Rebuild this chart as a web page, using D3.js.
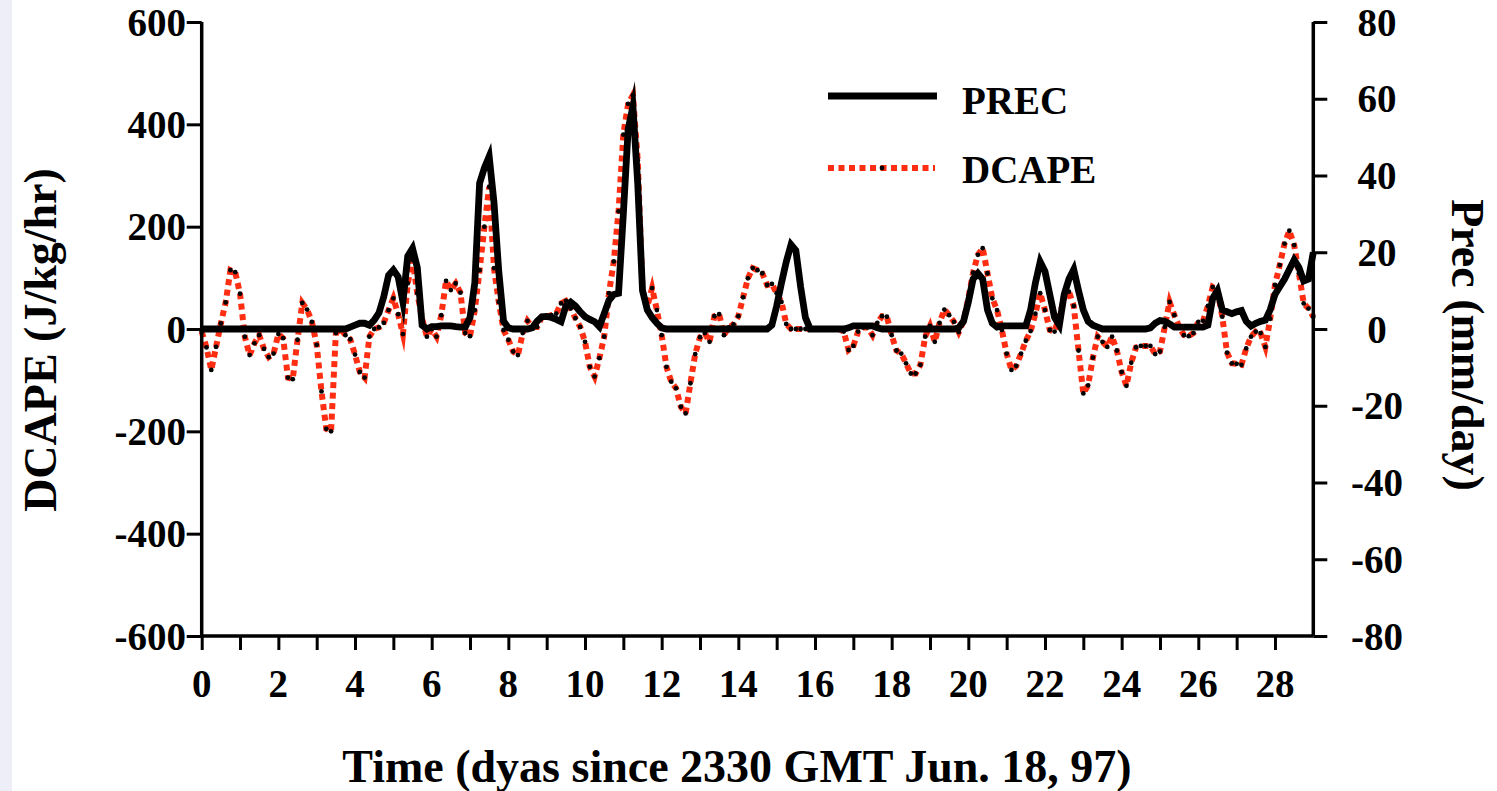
<!DOCTYPE html>
<html>
<head>
<meta charset="utf-8">
<script src="https://cdn.jsdelivr.net/npm/d3@7"></script>
<style>
  html, body { margin: 0; padding: 0; background: #ffffff; }
  svg { display: block; }
  text { font-family: "Liberation Serif", "Times New Roman", serif; font-weight: bold; fill: #000; }
</style>
</head>
<body>
<svg id="chart" width="1497" height="791"></svg>
<script>
// 3-hourly samples, starting at 2330 GMT Jun. 18, 1997
const stepDays = 0.125;

// DCAPE tendency (J/kg/hr), left axis
const dcape = [
  -5,-36,-80,-35,11,52,115,111,69,-15,
  -51,-28,-12,-39,-55,-48,-10,-18,-95,-98,
  -21,51,38,14,-31,-122,-195,-200,-8,0,
  -12,-20,-50,-84,-95,-15,0,3,12,37,
  60,29,-10,89,135,70,20,-15,0,-15,
  27,94,76,89,71,-8,-14,37,115,200,
  278,119,53,-2,-21,-44,-51,-8,16,4,
  4,24,24,27,30,50,55,40,21,4,
  -25,-74,-93,-57,-15,70,132,230,380,440,
  457,330,76,44,80,37,-12,-74,-103,-116,
  -152,-165,-106,-49,-16,-8,-25,25,29,-12,
  3,9,25,62,99,119,115,109,86,88,
  70,53,10,0,0,0,0,0,0,0,
  0,0,0,0,-5,-41,-33,-5,3,3,
  -12,12,25,24,-12,-42,-48,-67,-87,-87,
  -70,-15,6,-25,12,38,27,14,-6,15,
  60,110,145,158,109,60,37,-2,-48,-80,
  -72,-48,-23,-4,30,70,37,-2,-5,25,
  60,73,45,-42,-126,-110,-56,-15,-25,-35,
  -15,-42,-84,-111,-66,-36,-33,-33,-33,-49,
  -44,4,53,27,4,-12,-14,-8,14,16,
  45,82,76,24,-46,-67,-68,-70,-38,-15,
  -5,-8,-35,20,86,125,167,192,164,109,
  50,40,24
];

// Precipitation rate (mm/day), right axis
const prec = [
  0,0,0,0,0,0,0,0,0,0,
  0,0,0,0,0,0,0,0,0,0,
  0,0,0,0,0,0,0,0,0,0,
  0,0.5,1,1.5,1.5,1,2.3,4.2,8.4,14,
  15.4,13.6,7,19,21,16,1,0,0.6,0.6,
  0.8,0.8,0.8,0.6,0.5,0.5,3,12,38,42,
  45,33,15,2,0.3,0,0,0,0,0.3,
  2,3.2,3.3,3,2.5,1.9,6,7,6,4.5,
  3.2,2.5,1.9,0.6,4,7.5,9,9.3,30,52,
  58,38,10,5,3,1.5,0.3,0,0,0,
  0,0,0,0,0,0,0,0,0,0,
  0,0,0,0,0,0,0,0,0,1,
  6,12,17.5,22,20.5,11,3,0,0,0,
  0,0,0,0,0,0.3,0.8,0.8,0.8,0.8,
  0.8,0.3,0,0,0,0,0,0,0,0,
  0,0,0,0,0,0,0,0,0.3,2,
  7,13,14.5,13,5,1.5,0.5,0.8,0.8,0.8,
  0.8,0.8,0.8,5,12,17.5,15,9,3,1,
  9,13,15.5,10,5,2,1,0.5,0,0,
  0,0,0,0,0,0,0,0,0.3,1.5,
  2.2,2,1.3,0.5,0.5,0.5,0.5,0.5,0.5,0.5,
  1,8,10,5,4.5,4,4.5,4.8,2,0.8,
  1.5,2,2.3,5,9,11,13,15.5,18,16,
  12.5,13,20
];

const xTicks = [0,2,4,6,8,10,12,14,16,18,20,22,24,26,28];
const xMinorTicks = d3.range(0, 29, 1);
const leftTicks = [-600,-400,-200,0,200,400,600];
const rightTicks = [-80,-60,-40,-20,0,20,40,60,80];
const seriesNames = ["PREC", "DCAPE"];
const titles = {
  x: "Time (dyas since 2330 GMT Jun. 18, 97)",
  yLeft: "DCAPE (J/kg/hr)",
  yRight: "Prec (mm/day)"
};

const svg = d3.select("#chart");
const W = 1497, H = 791;
const plot = { left: 201.7, right: 1313.3, top: 22, bottom: 636 };

// soft lavender margin strip on the left edge
svg.append("rect").attr("x", 0).attr("y", 0).attr("width", 12).attr("height", H)
  .attr("fill", "#eeeef9");

const x = d3.scaleLinear().domain([0, 29]).range([plot.left, plot.right]);
const yL = d3.scaleLinear().domain([-600, 600]).range([plot.bottom, plot.top]);
const yR = d3.scaleLinear().domain([-80, 80]).range([plot.bottom, plot.top]);

const red = "#ff2e12";
const dash = "6,4.5";

// DCAPE: red square-dotted line with small black markers
const dcapeLine = d3.line().x((d, i) => x(i * stepDays)).y(d => yL(d));
svg.append("path").datum(dcape)
  .attr("d", dcapeLine)
  .attr("fill", "none")
  .attr("stroke", red)
  .attr("stroke-width", 6)
  .attr("stroke-dasharray", dash)
  .attr("stroke-linejoin", "miter")
  .attr("stroke-miterlimit", 10);
svg.append("g").selectAll("circle").data(dcape).join("circle")
  .attr("cx", (d, i) => x(i * stepDays))
  .attr("cy", d => yL(d))
  .attr("r", 2.4)
  .attr("fill", "#000");

// PREC: thick black solid line
const precLine = d3.line().x((d, i) => x(i * stepDays)).y(d => yR(d));
svg.append("path").datum(prec)
  .attr("d", precLine)
  .attr("fill", "none")
  .attr("stroke", "#000")
  .attr("stroke-width", 6.8)
  .attr("stroke-linejoin", "miter")
  .attr("stroke-miterlimit", 10);

// Axes
const axisW = 3.5;
const xAxis = svg.append("g").attr("transform", `translate(0,${plot.bottom})`)
  .call(d3.axisBottom(x).tickValues(xMinorTicks).tickSize(14).tickFormat(""));
const leftAxis = svg.append("g").attr("transform", `translate(${plot.left},0)`)
  .call(d3.axisLeft(yL).tickValues(leftTicks).tickSize(15).tickFormat(""));
const rightAxis = svg.append("g").attr("transform", `translate(${plot.right},0)`)
  .call(d3.axisRight(yR).tickValues(rightTicks).tickSize(14).tickFormat(""));
[xAxis, leftAxis, rightAxis].forEach(g => {
  g.select(".domain").attr("stroke", "#000").attr("stroke-width", axisW)
    .attr("d", g === xAxis ? `M${plot.left},0H${plot.right}`
      : `M0,${plot.top}V${plot.bottom}`);
  g.selectAll(".tick line").attr("stroke", "#000").attr("stroke-width", 3);
});

// Tick labels
const fs = 39;
svg.append("g").selectAll("text").data(xTicks).join("text")
  .attr("x", d => x(d)).attr("y", 697)
  .attr("text-anchor", "middle").attr("font-size", fs)
  .text(d => d);
svg.append("g").selectAll("text").data(leftTicks).join("text")
  .attr("x", 186).attr("y", d => yL(d) + 13.5)
  .attr("text-anchor", "end").attr("font-size", fs)
  .text(d => d);
svg.append("g").selectAll("text").data(rightTicks).join("text")
  .attr("x", 1377).attr("y", d => yR(d) + 13.5)
  .attr("text-anchor", "middle").attr("font-size", fs)
  .text(d => d);

// Axis titles
const tfs = 46;
svg.append("text").attr("x", 737).attr("y", 782)
  .attr("text-anchor", "middle").attr("font-size", tfs).text(titles.x);
svg.append("text").attr("transform", "translate(56,340) rotate(-90)")
  .attr("text-anchor", "middle").attr("font-size", tfs).text(titles.yLeft);
svg.append("text").attr("transform", "translate(1452,345) rotate(90)")
  .attr("text-anchor", "middle").attr("font-size", tfs).text(titles.yRight);

// Legend
const legend = svg.append("g");
legend.append("line").attr("x1", 828).attr("x2", 937).attr("y1", 96).attr("y2", 96)
  .attr("stroke", "#000").attr("stroke-width", 6.8);
legend.append("text").attr("x", 962).attr("y", 114).attr("font-size", fs).text(seriesNames[0]);
legend.append("line").attr("x1", 828).attr("x2", 935).attr("y1", 168).attr("y2", 168)
  .attr("stroke", red).attr("stroke-width", 6).attr("stroke-dasharray", dash);
legend.append("circle").attr("cx", 882).attr("cy", 168).attr("r", 2.4).attr("fill", "#000");
legend.append("text").attr("x", 962).attr("y", 183).attr("font-size", fs).text(seriesNames[1]);
</script>
</body>
</html>
